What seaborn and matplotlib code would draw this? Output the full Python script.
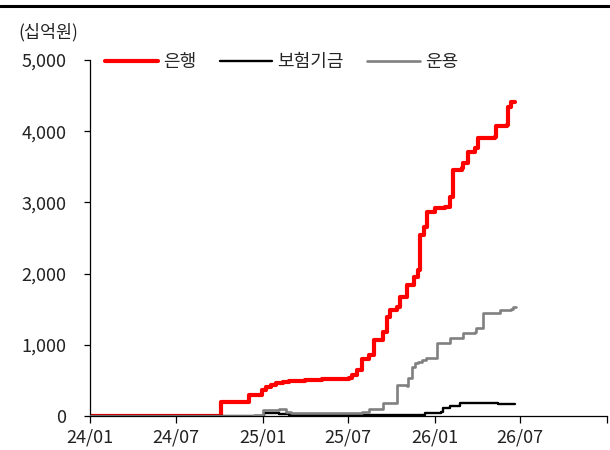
import matplotlib
matplotlib.use("Agg")
import matplotlib.pyplot as plt
import matplotlib.dates as mdates
from matplotlib.lines import Line2D
import seaborn as sns
import pandas as pd

# ---- data ----
bank_dates = ["2024-01-01", "2024-10-05", "2024-12-04", "2024-12-31", "2025-01-08", "2025-01-19",
              "2025-01-30", "2025-02-13", "2025-02-26", "2025-03-31", "2025-05-07", "2025-07-03",
              "2025-07-09", "2025-07-19", "2025-07-30", "2025-08-14", "2025-08-24", "2025-09-14",
              "2025-09-21", "2025-09-28", "2025-10-12", "2025-10-19", "2025-11-03", "2025-11-17",
              "2025-11-27", "2025-12-01", "2025-12-08", "2025-12-15", "2026-01-01", "2026-01-22",
              "2026-02-02", "2026-02-09", "2026-02-27", "2026-03-02", "2026-03-13", "2026-03-27",
              "2026-04-03", "2026-05-08", "2026-05-10", "2026-06-02", "2026-06-05", "2026-06-12",
              "2026-06-20"]
bank_values = [0, 200, 295, 365, 412, 440, 459, 480, 491, 500, 515, 529,
               575, 646, 796, 857, 1067, 1184, 1395, 1489, 1535, 1676, 1840, 1957,
               2050, 2542, 2659, 2870, 2926, 2940, 3080, 3455, 3479, 3549, 3712, 3760,
               3900, 3923, 4073, 4087, 4344, 4414, 4414]

ins_dates = ["2024-01-01", "2025-01-03", "2025-02-05", "2025-02-26", "2025-12-11", "2026-01-15",
             "2026-01-19", "2026-02-02", "2026-02-23", "2026-04-03", "2026-05-15", "2026-06-20"]
ins_values = [0, 38, 28, 19, 38, 60, 108, 140, 187, 180, 172, 168]

am_dates = ["2024-01-01", "2024-12-04", "2024-12-14", "2025-01-01", "2025-02-05", "2025-02-19",
            "2025-03-02", "2025-07-30", "2025-08-14", "2025-09-14", "2025-10-12", "2025-11-03",
            "2025-11-06", "2025-11-13", "2025-11-20", "2025-11-27", "2025-12-04", "2025-12-14",
            "2026-01-05", "2026-02-02", "2026-03-02", "2026-03-27", "2026-03-30", "2026-04-13",
            "2026-05-01", "2026-05-19", "2026-06-12", "2026-06-16", "2026-06-23"]
am_values = [0, 0, 20, 90, 95, 60, 40, 55, 98, 178, 435, 420,
             529, 692, 740, 763, 786, 810, 1021, 1091, 1161, 1184, 1231, 1442,
             1450, 1489, 1498, 1535, 1535]

series_names = ["은행", "보험기금", "운용"]
tick_dates = ["2024-01-01", "2024-07-01", "2025-01-01", "2025-07-01", "2026-01-01", "2026-07-01", "2027-01-01"]
tick_labels = ["24/01", "24/07", "25/01", "25/07", "26/01", "26/07", ""]
y_ticks = [0, 1000, 2000, 3000, 4000, 5000]
y_labels = ["0", "1,000", "2,000", "3,000", "4,000", "5,000"]
unit_label = "(십억원)"

# ---- style ----
sns.set_theme(style="white")
plt.rcParams["font.family"] = ["Noto Sans CJK KR", "DejaVu Sans"]

fig = plt.figure(figsize=(6.1, 4.5), dpi=100)
ax = fig.add_axes([90 / 610, 1 - 416 / 450, (607 - 90) / 610, (416 - 60) / 450])

frames = []
for name, d, v in [(series_names[0], bank_dates, bank_values),
                   (series_names[1], ins_dates, ins_values),
                   (series_names[2], am_dates, am_values)]:
    frames.append(pd.DataFrame({"date": pd.to_datetime(d), "value": v, "series": name}))
df = pd.concat(frames, ignore_index=True)

styles = {
    series_names[0]: dict(color="#ff0000", lw=3.0, z=2),
    series_names[1]: dict(color="#000000", lw=1.7, z=3),
    series_names[2]: dict(color="#808080", lw=1.9, z=4),
}
for name in series_names:
    sub = df[df["series"] == name]
    st = styles[name]
    sns.lineplot(data=sub, x="date", y="value", ax=ax, color=st["color"], linewidth=st["lw"],
                 drawstyle="steps-post", label=name, zorder=st["z"], solid_capstyle="round")

ax.set_xlim(pd.Timestamp(tick_dates[0]), pd.Timestamp(tick_dates[-1]))
ax.set_ylim(0, 5000)
ax.set_xticks(pd.to_datetime(tick_dates))
ax.set_xticklabels(tick_labels)
ax.set_yticks(y_ticks)
ax.set_yticklabels(y_labels)
ax.set_xlabel("")
ax.set_ylabel("")

for s in ["top", "right"]:
    ax.spines[s].set_visible(False)
for s in ["left", "bottom"]:
    ax.spines[s].set_color("black")
    ax.spines[s].set_linewidth(0.9)

ax.tick_params(axis="y", direction="out", length=4, width=0.9, color="black", pad=13,
               labelsize=13, labelcolor="#222222", left=True)
ax.tick_params(axis="x", direction="out", length=5, width=0.9, color="black", pad=4,
               labelsize=13, labelcolor="#222222", bottom=True)

leg = ax.legend(loc="center left", bbox_to_anchor=(98 / 610, 1 - 62 / 450),
                bbox_transform=fig.transFigure, ncol=3, frameon=False, fontsize=13,
                handlelength=2.9, handletextpad=0.3, columnspacing=1.3, borderaxespad=0)

fig.text(18 / 610, 1 - 32 / 450, unit_label, fontsize=12.5, color="#222222", va="center", ha="left")
fig.add_artist(Line2D([0, 1], [1 - 6 / 450, 1 - 6 / 450], transform=fig.transFigure,
                      color="black", lw=2.2))

fig.savefig("out.png", dpi=100)
